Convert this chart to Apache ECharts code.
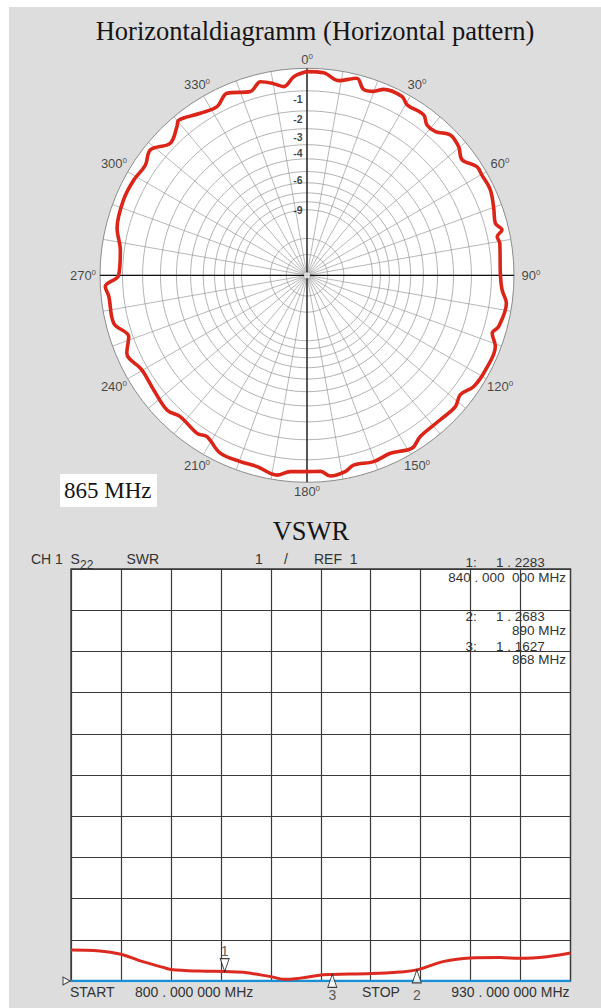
<!DOCTYPE html>
<html><head><meta charset="utf-8">
<script src="https://cdn.jsdelivr.net/npm/echarts@6/dist/echarts.min.js"></script>
<style>
html,body{margin:0;padding:0;background:#fff;}
#bg{position:absolute;left:9px;top:7px;width:592px;height:1001px;background:#dddddd;}
#c{position:absolute;left:0;top:0;width:601px;height:1008px;}
</style>
</head><body><div id="bg"></div><div id="c"></div>
<script>
// ---- Horizontal pattern (865 MHz), relative level in dB vs azimuth (deg) ----
const patternAngles = [0, 4.7, 9.2, 14.2, 16.9, 19.9, 22.4, 28, 30.4, 36, 38.6, 41.8, 45.6, 49.7, 53.3, 57.4, 60.2, 65, 70.3, 74.6, 76.9, 78.5, 80.6, 90, 94.3, 98, 105, 107.4, 110.7, 118, 123.7, 127.9, 131.5, 137.3, 144.9, 148.7, 154.9, 160.3, 166.2, 169, 173.4, 176, 180, 184.9, 188.5, 194.6, 199.7, 206, 211.8, 214.8, 221.9, 226, 233.2, 240.2, 246.6, 251, 256, 263.9, 266.8, 270, 277.7, 283.9, 292.3, 298.8, 304.3, 308.7, 314, 318.8, 320.4, 326.6, 331.9, 336.3, 342.9, 346.5, 349.7, 353, 356.2, 360];
const patternDb = [-0.14, -0.16, -0.42, -0.16, -0.55, -0.49, -0.25, -0.19, -0.40, -0.37, -0.64, -0.62, -0.27, -0.35, -0.59, -0.23, -0.23, -0.20, -0.37, -0.50, -0.29, -0.56, -0.50, -0.59, -0.49, -0.24, -0.37, -0.56, -0.24, -0.21, -0.28, -0.55, -0.38, -0.45, -0.43, -0.20, -0.45, -0.39, -0.50, -0.30, -0.21, -0.45, -0.46, -0.43, -0.21, -0.40, -0.39, -0.39, -0.75, -0.63, -0.75, -0.55, -0.68, -0.73, -0.46, -0.81, -0.34, -0.33, -0.21, -0.82, -0.82, -0.49, -0.37, -0.40, -0.49, -0.27, -0.74, -0.41, -0.24, -0.56, -0.69, -0.35, -0.64, -0.34, -0.51, -0.74, -0.34, -0.14];
const ringLevelsDb = [-1, -2, -3, -4, -5, -6, -7, -8, -9, -10, -15, -20];
const ringLabelDb = [-1, -2, -3, -4, -6, -9];
const angleLabels = [0, 30, 60, 90, 120, 150, 180, 210, 240, 270, 300, 330];
const spokeStep = 10;
const patternTitle = 'Horizontaldiagramm (Horizontal pattern)';
const freqLabel = '865 MHz';

// ---- VSWR sweep ----
const vswrTitle = 'VSWR';
const startMHz = 800, stopMHz = 930;
const freqMHz = [800, 807.5, 813, 818.7, 824, 826, 833.6, 840, 844.8, 852.3, 855.7, 859.6, 865.6, 868, 878.3, 885.6, 890, 896.8, 903.8, 911.6, 916.8, 923.9, 930];
const swr = [1.75, 1.73, 1.65, 1.47, 1.33, 1.28, 1.24, 1.23, 1.21, 1.10, 1.04, 1.07, 1.15, 1.16, 1.18, 1.22, 1.27, 1.47, 1.56, 1.57, 1.55, 1.59, 1.68];
const refSwr = 1;
const swrPerDiv = 1;
const markerIds = ['1', '2', '3'];
const markerFreqs = [840, 890, 868];
const markerSwr = [1.2283, 1.2683, 1.1627];
const markerUp = [false, true, true];
const markerFreqText = ['840 . 000  000 MHz', '890 MHz', '868 MHz'];

const toAmp = db => Math.pow(10, db / 20);
const fmtMHz = f => f.toFixed(0) + ' . 000 000 MHz';
const fmtSwr = v => v.toFixed(4).replace('.', ' . ');

const chart = echarts.init(document.getElementById('c'), null, {renderer: 'svg'});

const SANS = 'Liberation Sans, Arial, sans-serif';
const SERIF = 'Liberation Serif, Times New Roman, serif';
const TXT = '#333';

function txt(text, x, y, size, align, family, color, weight) {
  return {type: 'text', x: x, y: y, silent: true, z: 50,
    style: {text: text, fontSize: size, fontFamily: family || SANS, fontWeight: weight || 'normal',
      fill: color || TXT, align: align || 'left', textAlign: align || 'left',
      verticalAlign: 'middle', textVerticalAlign: 'middle'}};
}

// ring series
const ringAngles = [];
for (let a = 0; a <= 360; a += 3) ringAngles.push(a);
const ringSeries = ringLevelsDb.map(db => ({
  type: 'line', coordinateSystem: 'polar', polarIndex: 0, silent: true, showSymbol: false,
  symbol: 'none', animation: false, z: 1,
  lineStyle: {color: '#a0a0a0', width: 0.8},
  data: ringAngles.map(a => [toAmp(db), a])
}));
// spokes
const spokeSeries = [];
for (let a = 0; a < 360; a += spokeStep) {
  spokeSeries.push({
    type: 'line', coordinateSystem: 'polar', silent: true, symbol: 'none', animation: false, z: 1,
    lineStyle: {color: '#9a9a9a', width: 0.7},
    data: [[0, a], [1, a]]
  });
}

const series = ringSeries.concat(spokeSeries).concat([
  { // main cross axes
    type: 'line', coordinateSystem: 'polar', silent: true, symbol: 'none', animation: false, z: 3,
    lineStyle: {color: '#111', width: 1.3},
    data: [[1, 0], [0, 0], [1, 180]]
  },
  {
    type: 'line', coordinateSystem: 'polar', silent: true, symbol: 'none', animation: false, z: 3,
    lineStyle: {color: '#111', width: 1.3},
    data: [[1, 90], [0, 0], [1, 270]]
  },
  { // center dot
    type: 'scatter', coordinateSystem: 'polar', silent: true, animation: false, z: 4,
    symbol: 'circle', symbolSize: 6, itemStyle: {color: '#fff'}, data: [[0, 0]]
  },
  { // pattern
    type: 'line', coordinateSystem: 'polar', silent: true, symbol: 'none', animation: false, z: 10,
    smooth: 0.35,
    lineStyle: {color: '#dc2519', width: 3.6},
    data: patternAngles.map((a, i) => [toAmp(patternDb[i]), a])
  },
  { // dB ring labels
    type: 'scatter', coordinateSystem: 'polar', silent: true, animation: false, z: 11, clip: false,
    symbolSize: 1, itemStyle: {color: 'rgba(0,0,0,0)'},
    label: {show: true, position: 'inside', offset: [-9, 8], color: '#111', fontSize: 10.5,
      fontWeight: 'bold', fontFamily: SANS, formatter: p => String(ringLabelDb[p.dataIndex])},
    data: ringLabelDb.map(db => [toAmp(db), 0])
  },
  { // angle labels
    type: 'scatter', coordinateSystem: 'polar', silent: true, animation: false, z: 11, clip: false,
    symbolSize: 1, itemStyle: {color: 'rgba(0,0,0,0)'},
    label: {show: true, position: 'inside',
      formatter: p => '{a|' + angleLabels[p.dataIndex] + '}{s|0}',
      rich: {a: {fontSize: 13, fontFamily: SANS, color: '#1a1a1a', lineHeight: 14},
             s: {fontSize: 8, fontFamily: SANS, color: '#1a1a1a', verticalAlign: 'top', lineHeight: 14}}},
    data: angleLabels.map(a => [(216 + 8 * Math.abs(Math.sin(a * Math.PI / 180))) / 207, a])
  },
  // ---- VSWR ----
  { // reference line
    type: 'line', xAxisIndex: 0, yAxisIndex: 0, silent: true, symbol: 'none', animation: false, z: 3,
    lineStyle: {color: '#1b8fd6', width: 2.6},
    data: [[startMHz, refSwr], [stopMHz, refSwr]]
  },
  {
    type: 'line', xAxisIndex: 0, yAxisIndex: 0, silent: true, symbol: 'none', animation: false, z: 6,
    smooth: 0.4,
    lineStyle: {color: '#dc2a20', width: 3},
    data: freqMHz.map((f, i) => [f, swr[i]])
  },
  { // marker triangles
    type: 'scatter', xAxisIndex: 0, yAxisIndex: 0, silent: true, animation: false, z: 8, clip: false,
    itemStyle: {color: '#fff', borderColor: '#111', borderWidth: 1},
    data: markerFreqs.map((f, i) => ({
      value: [f, markerSwr[i]], symbol: 'triangle', symbolSize: [9, 13],
      symbolRotate: markerUp[i] ? 0 : 180, symbolOffset: [0, markerUp[i] ? 6.5 : -6.5]
    })).concat([{value: [startMHz, refSwr], symbol: 'triangle', symbolSize: [8, 7],
      symbolRotate: -90, symbolOffset: [-4.5, 0]}])
  },
  { // marker numbers
    type: 'scatter', xAxisIndex: 0, yAxisIndex: 0, silent: true, animation: false, z: 8, clip: false,
    symbolSize: 1, itemStyle: {color: 'rgba(0,0,0,0)'},
    label: {show: true, position: 'inside', color: TXT, fontSize: 14, fontFamily: SANS,
      formatter: p => markerIds[p.dataIndex]},
    data: markerFreqs.map((f, i) => ({
      value: markerUp[i] ? [f, refSwr] : [f, markerSwr[i]],
      label: {offset: [0, markerUp[i] ? 13.5 : -21]}
    }))
  }
]);

const graphics = [
  txt(patternTitle, 315, 31, 26.5, 'center', SERIF, '#151515'),
  {type: 'rect', silent: true, z: 40, shape: {x: 60, y: 474, width: 97, height: 33}, style: {fill: '#fff'}},
  txt(freqLabel, 64, 490, 23, 'left', SERIF, '#151515'),
  txt(vswrTitle, 311, 531, 26.5, 'center', SERIF, '#151515'),
  txt('CH 1', 31, 558.5, 14),
  txt('S', 70.5, 558.5, 14),
  txt('22', 80, 565, 12),
  txt('SWR', 126.5, 558.5, 14),
  txt(String(swrPerDiv), 259, 558.5, 14, 'center'),
  txt('/', 286, 558.5, 14, 'center'),
  txt('REF  ' + refSwr, 314, 558.5, 14),
  txt('START', 70, 992, 14),
  txt(fmtMHz(startMHz), 135, 992, 14),
  txt('STOP', 362, 992, 14),
  txt(fmtMHz(stopMHz), 569.5, 992, 14, 'right')
];
const readY = [562, 616.5, 646];
const freqY = [577.5, 630, 659.5];
markerIds.forEach((id, i) => {
  graphics.push(txt(id + ':', 465.5, readY[i], 13.5));
  graphics.push(txt(fmtSwr(markerSwr[i]), 496, readY[i], 13.5));
  graphics.push(txt(markerFreqText[i], 566, freqY[i], 13.5, 'right'));
});

chart.setOption({
  animation: false,
  backgroundColor: 'transparent',
  polar: {center: [307, 275.3], radius: 207},
  angleAxis: {
    type: 'value', min: 0, max: 360, interval: 10, startAngle: 90, clockwise: true,
    axisLine: {show: true, lineStyle: {color: '#8c8c8c', width: 1}},
    axisTick: {show: false}, axisLabel: {show: false},
    splitLine: {show: false},
    splitArea: {show: true, areaStyle: {color: ['#ffffff']}}
  },
  radiusAxis: {
    type: 'value', min: 0, max: 1,
    axisLine: {show: false}, axisTick: {show: false}, axisLabel: {show: false}, splitLine: {show: false}
  },
  grid: {left: 71, top: 569, width: 499.5, height: 412, show: true,
    backgroundColor: '#fff', borderColor: '#333', borderWidth: 1.3},
  xAxis: [
    {type: 'value', min: startMHz, max: stopMHz, show: false, gridIndex: 0},
    {type: 'value', min: 0, max: 10, interval: 1, gridIndex: 0,
      axisLine: {show: false}, axisTick: {show: false}, axisLabel: {show: false},
      splitLine: {show: true, lineStyle: {color: '#3a3a3a', width: 1.2}}}
  ],
  yAxis: [{
    type: 'value', min: refSwr, max: refSwr + 10 * swrPerDiv, interval: swrPerDiv, gridIndex: 0,
    axisLine: {show: false}, axisTick: {show: false}, axisLabel: {show: false},
    splitLine: {show: true, lineStyle: {color: '#3a3a3a', width: 1.2}}
  }],
  graphic: graphics,
  series: series
});
</script>
</body></html>
